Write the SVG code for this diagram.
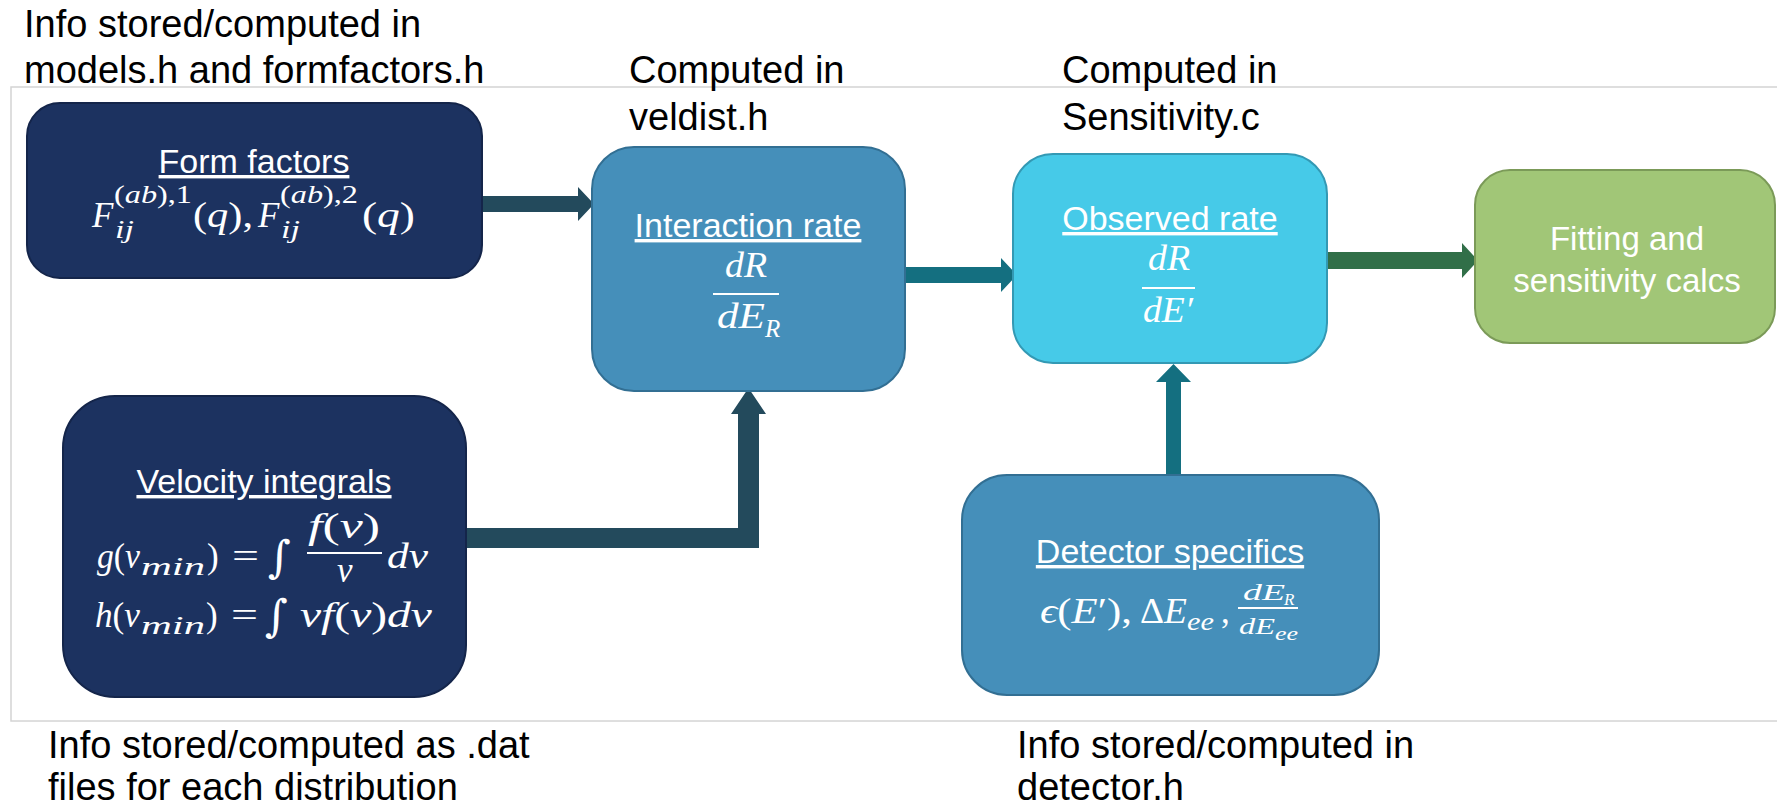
<svg xmlns="http://www.w3.org/2000/svg" width="1777" height="806" viewBox="0 0 1777 806">
<style>
  .ann { font-family: "Liberation Sans", Arial, sans-serif; font-size: 38px; fill: #000; }
  .ttl { font-family: "Liberation Sans", Arial, sans-serif; font-size: 34px; fill: #fff; text-anchor: middle; text-decoration: underline; }
  .plain { font-family: "Liberation Sans", Arial, sans-serif; font-size: 33px; fill: #fff; text-anchor: middle; }
  .m { font-family: "Liberation Serif", "DejaVu Serif", serif; font-size: 35px; fill: #fff; }
  .ms { font-family: "Liberation Serif", "DejaVu Serif", serif; font-size: 25px; fill: #fff; }
  .mf { font-family: "Liberation Serif", "DejaVu Serif", serif; font-size: 24px; fill: #fff; }
  .i { font-style: italic; }
  .int { font-family: "DejaVu Serif", serif; font-size: 44px; fill: #fff; font-style: italic; }
  .bar { stroke: #fff; stroke-width: 2; }
  .navy { fill: #1c3260; stroke: #14254a; stroke-width: 2; }
  .blue { fill: #458fba; stroke: #326f93; stroke-width: 2; }
  .cyan { fill: #46cae8; stroke: #3399b4; stroke-width: 2; }
  .green { fill: #a1c677; stroke: #7b9a58; stroke-width: 2; }
</style>

<rect x="11" y="87" width="1800" height="634" fill="none" stroke="#d4d4d4" stroke-width="1.5"/>

<g id="annotations">
  <text class="ann" x="24" y="37">Info stored/computed in</text>
  <text class="ann" x="24" y="83">models.h and formfactors.h</text>
  <text class="ann" x="629" y="83">Computed in</text>
  <text class="ann" x="629" y="130">veldist.h</text>
  <text class="ann" x="1062" y="83">Computed in</text>
  <text class="ann" x="1062" y="130">Sensitivity.c</text>
  <text class="ann" x="48" y="758">Info stored/computed as .dat</text>
  <text class="ann" x="48" y="800">files for each distribution</text>
  <text class="ann" x="1017" y="758">Info stored/computed in</text>
  <text class="ann" x="1017" y="800">detector.h</text>
</g>

<g id="connectors">
  <polygon fill="#234a5c" points="482,196 578,196 578,187 594,204 578,221 578,212 482,212"/>
  <polygon fill="#234a5c" points="466,528 738,528 738,414 731,414 748.5,388 766,414 759,414 759,548 466,548"/>
  <polygon fill="#146f80" points="905,267 1001,267 1001,258 1017,275 1001,292 1001,283 905,283"/>
  <polygon fill="#316f48" points="1327,252 1462,252 1462,243 1478,260.5 1462,278 1462,269 1327,269"/>
  <polygon fill="#146f80" points="1166,475 1166,382 1156,382 1173.5,364 1191,382 1181,382 1181,475"/>
</g>

<g id="node-formfactors">
  <rect class="navy" x="27" y="103" width="455" height="175" rx="33"/>
  <text class="ttl" x="254" y="173">Form factors</text>
  <text class="m i" x="92" y="227">F</text>
  <text class="ms i" x="115" y="238" textLength="19" lengthAdjust="spacingAndGlyphs">ij</text>
  <text class="ms" x="114" y="203" textLength="78" lengthAdjust="spacingAndGlyphs">(<tspan class="i">ab</tspan>),1</text>
  <text class="m" x="193" y="227" textLength="60" lengthAdjust="spacingAndGlyphs">(<tspan class="i">q</tspan>),</text>
  <text class="m i" x="258" y="227">F</text>
  <text class="ms i" x="281" y="238" textLength="19" lengthAdjust="spacingAndGlyphs">ij</text>
  <text class="ms" x="280" y="203" textLength="78" lengthAdjust="spacingAndGlyphs">(<tspan class="i">ab</tspan>),2</text>
  <text class="m" x="362" y="227" textLength="53" lengthAdjust="spacingAndGlyphs">(<tspan class="i">q</tspan>)</text>
</g>

<g id="node-velocity">
  <rect class="navy" x="63" y="396" width="403" height="301" rx="52"/>
  <text class="ttl" x="264" y="493">Velocity integrals</text>
  <text class="m" x="97" y="568" textLength="43" lengthAdjust="spacingAndGlyphs"><tspan class="i">g</tspan>(<tspan class="i">v</tspan></text>
  <text class="ms i" x="141" y="575" textLength="64" lengthAdjust="spacingAndGlyphs">min</text>
  <text class="m" x="207" y="568">)</text>
  <text class="m" x="232" y="568" textLength="27" lengthAdjust="spacingAndGlyphs">=</text>
  <text class="int" x="268" y="572">∫</text>
  <text class="m" x="308" y="538" textLength="72" lengthAdjust="spacingAndGlyphs"><tspan class="i">f</tspan>(<tspan class="i">v</tspan>)</text>
  <line class="bar" x1="307" y1="553" x2="382" y2="553"/>
  <text class="m i" x="337" y="582">v</text>
  <text class="m i" x="387" y="568" textLength="41" lengthAdjust="spacingAndGlyphs">dv</text>
  <text class="m" x="95" y="627" textLength="45" lengthAdjust="spacingAndGlyphs"><tspan class="i">h</tspan>(<tspan class="i">v</tspan></text>
  <text class="ms i" x="141" y="634" textLength="64" lengthAdjust="spacingAndGlyphs">min</text>
  <text class="m" x="206" y="627">)</text>
  <text class="m" x="231" y="627" textLength="27" lengthAdjust="spacingAndGlyphs">=</text>
  <text class="int" x="265" y="631">∫</text>
  <text class="m" x="300" y="627" textLength="132" lengthAdjust="spacingAndGlyphs"><tspan class="i">vf</tspan>(<tspan class="i">v</tspan>)<tspan class="i">dv</tspan></text>
</g>

<g id="node-interaction">
  <rect class="blue" x="592" y="147" width="313" height="244" rx="42"/>
  <text class="ttl" x="748" y="237">Interaction rate</text>
  <text class="m i" x="725" y="277" textLength="42" lengthAdjust="spacingAndGlyphs">dR</text>
  <line class="bar" x1="713" y1="294" x2="779" y2="294"/>
  <text class="m i" x="717" y="328" textLength="48" lengthAdjust="spacingAndGlyphs">dE</text>
  <text class="ms i" x="765" y="337">R</text>
</g>

<g id="node-observed">
  <rect class="cyan" x="1013" y="154" width="314" height="209" rx="40"/>
  <text class="ttl" x="1170" y="230">Observed rate</text>
  <text class="m i" x="1148" y="270" textLength="42" lengthAdjust="spacingAndGlyphs">dR</text>
  <line class="bar" x1="1142" y1="288" x2="1195" y2="288"/>
  <text class="m i" x="1143" y="322" textLength="50" lengthAdjust="spacingAndGlyphs">dE′</text>
</g>

<g id="node-detector">
  <rect class="blue" x="962" y="475" width="417" height="220" rx="45"/>
  <text class="ttl" x="1170" y="563">Detector specifics</text>
  <text class="m" x="1040" y="623" textLength="92" lengthAdjust="spacingAndGlyphs"><tspan class="i">ϵ</tspan>(<tspan class="i">E</tspan>′),</text>
  <text class="m" x="1140" y="623" textLength="47" lengthAdjust="spacingAndGlyphs">Δ<tspan class="i">E</tspan></text>
  <text class="ms i" x="1187" y="630" textLength="27" lengthAdjust="spacingAndGlyphs">ee</text>
  <text class="m" x="1221" y="623">,</text>
  <text class="mf i" x="1243" y="600" textLength="42" lengthAdjust="spacingAndGlyphs">dE</text>
  <text class="ms i" x="1284" y="605" style="font-size:17px">R</text>
  <line class="bar" x1="1238" y1="608" x2="1298" y2="608"/>
  <text class="mf i" x="1239" y="634" textLength="36" lengthAdjust="spacingAndGlyphs">dE</text>
  <text class="ms i" x="1275" y="640" style="font-size:19px" textLength="23" lengthAdjust="spacingAndGlyphs">ee</text>
</g>

<g id="node-fitting">
  <rect class="green" x="1475" y="170" width="300" height="173" rx="35"/>
  <text class="plain" x="1627" y="250">Fitting and</text>
  <text class="plain" x="1627" y="292">sensitivity calcs</text>
</g>
</svg>
